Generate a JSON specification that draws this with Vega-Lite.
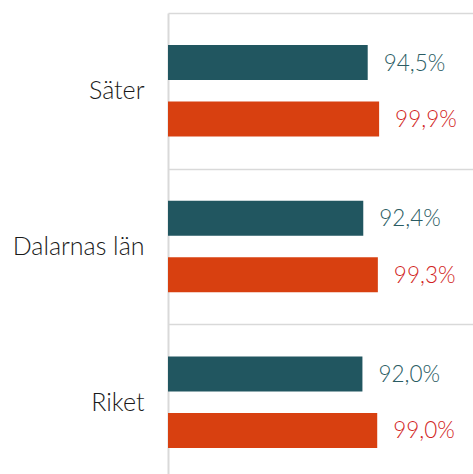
{
  "$schema": "https://vega.github.io/schema/vega-lite/v6.json",
  "autosize": "none",
  "width": 317,
  "height": 467,
  "padding": {"left": 168, "top": 13, "right": 0, "bottom": 0},
  "config": {
    "view": {"stroke": null},
    "locale": {"number": {"decimal": ",", "thousands": " ", "grouping": [3], "currency": ["", " kr"]}},
    "font": "Lato"
  },
  "data": {
    "values": [
      {"omrade": "Säter", "serie": "serie1", "value": 0.945},
      {"omrade": "Säter", "serie": "serie2", "value": 0.999},
      {"omrade": "Dalarnas län", "serie": "serie1", "value": 0.924},
      {"omrade": "Dalarnas län", "serie": "serie2", "value": 0.993},
      {"omrade": "Riket", "serie": "serie1", "value": 0.920},
      {"omrade": "Riket", "serie": "serie2", "value": 0.990}
    ]
  },
  "encoding": {
    "y": {
      "field": "omrade", "type": "nominal", "sort": null,
      "scale": {"paddingInner": 0, "paddingOuter": 0},
      "axis": {
        "title": null, "ticks": false, "labelFontSize": 25, "labelPadding": 24,
        "labelColor": "#1a1a1a", "labelFont": "Lato", "labelFontWeight": 300,
        "domain": true, "domainColor": "#d9d9d9", "domainWidth": 2,
        "grid": true, "gridColor": "#d9d9d9", "gridWidth": 1.5, "tickBand": "extent"
      }
    },
    "yOffset": {"field": "serie", "type": "nominal", "scale": {"paddingInner": 0.38, "paddingOuter": 0.568}},
    "x": {"field": "value", "type": "quantitative", "scale": {"domain": [0, 1.5]}, "axis": null}
  },
  "layer": [
    {
      "mark": {"type": "bar"},
      "encoding": {
        "color": {"field": "serie", "type": "nominal", "scale": {"domain": ["serie1", "serie2"], "range": ["#215660", "#d84010"]}, "legend": null}
      }
    },
    {
      "mark": {"type": "text", "align": "left", "baseline": "middle", "dx": 16, "dy": 1, "fontSize": 22.5, "font": "Lato", "fontWeight": 300},
      "encoding": {
        "text": {"field": "value", "type": "quantitative", "format": ".1%"},
        "color": {"condition": {"test": "datum.serie === 'serie1'", "value": "#2a5c63"}, "value": "#d21f24"}
      }
    }
  ]
}
